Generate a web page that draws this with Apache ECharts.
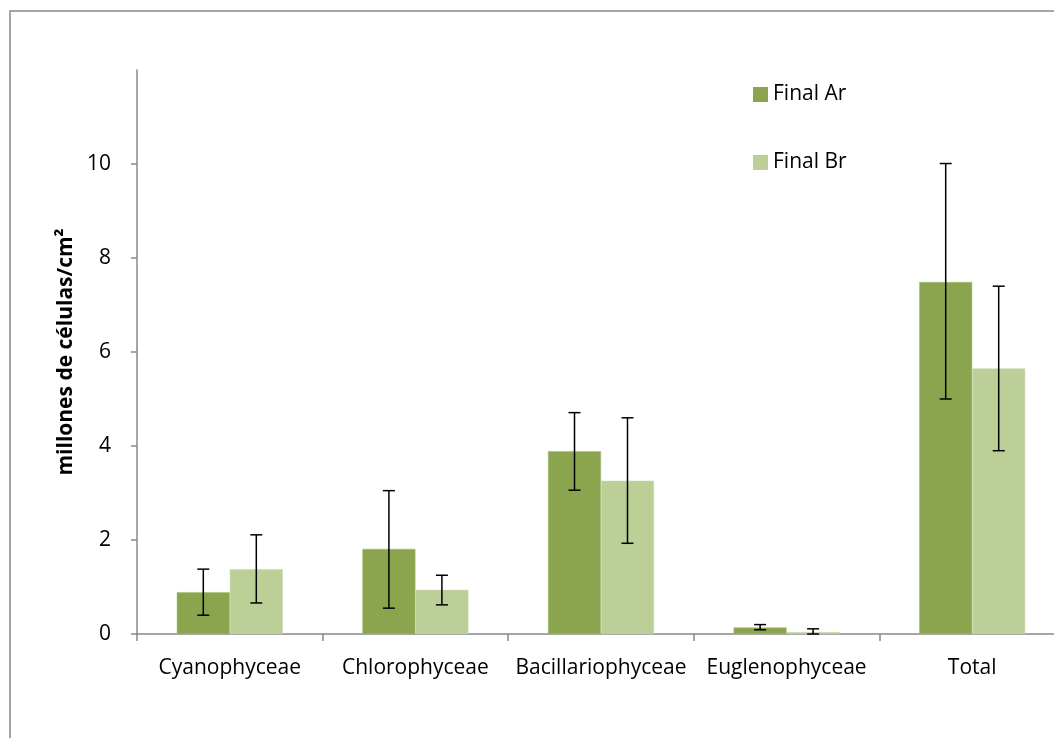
<!DOCTYPE html>
<html>
<head>
<meta charset="utf-8">
<script src="https://cdn.jsdelivr.net/npm/echarts@6/dist/echarts.min.js"></script>
<style>
  html, body { margin: 0; padding: 0; background: #fff; }
  #chart { width: 1054px; height: 738px; }
</style>
</head>
<body>
<div id="chart"></div>
<script>
var categories = ['Cyanophyceae', 'Chlorophyceae', 'Bacillariophyceae', 'Euglenophyceae', 'Total'];
var finalA = [0.89, 1.81, 3.89, 0.14, 7.49];
var finalA_low = [0.40, 0.55, 3.06, 0.09, 5.00];
var finalA_high = [1.38, 3.05, 4.71, 0.20, 10.01];
var finalB = [1.38, 0.94, 3.26, 0.04, 5.65];
var finalB_low = [0.66, 0.62, 1.93, 0.00, 3.90];
var finalB_high = [2.11, 1.25, 4.60, 0.11, 7.40];
var yTicks = [0, 2, 4, 6, 8, 10];

var myChart = echarts.init(document.getElementById('chart'));

// barra de error: series custom, desplazada medio ancho de barra
function errorSeries(name, low, high, offset) {
    var data = [];
    for (var i = 0; i < categories.length; i++) {
        data.push([i, low[i], high[i]]);
    }
    return {
        name: name,
        type: 'custom',
        z: 10,
        silent: true,
        renderItem: function (params, api) {
            var lo = api.coord([api.value(0), api.value(1)]);
            var hi = api.coord([api.value(0), api.value(2)]);
            var x = lo[0] + offset;
            var cap = 6;
            var st = { stroke: '#000', lineWidth: 1.5 };
            return {
                type: 'group',
                children: [
                    { type: 'line', shape: { x1: x, y1: hi[1], x2: x, y2: lo[1] }, style: st },
                    { type: 'line', shape: { x1: x - cap, y1: hi[1], x2: x + cap, y2: hi[1] }, style: st },
                    { type: 'line', shape: { x1: x - cap, y1: lo[1], x2: x + cap, y2: lo[1] }, style: st }
                ]
            };
        },
        data: data
    };
}

var option = {
    animation: false,
    backgroundColor: '#fff',
    textStyle: { fontFamily: 'Open Sans' },
    graphic: [{
        type: 'rect',
        left: 7.5,
        top: 8.5,
        shape: { width: 1200, height: 900 },
        style: { fill: 'none', stroke: '#888', lineWidth: 1.5 },
        z: -10
    }],
    legend: {
        orient: 'vertical',
        left: 748,
        top: 79,
        icon: 'rect',
        itemWidth: 15,
        itemHeight: 15,
        itemGap: 47,
        itemStyle: { borderWidth: 0 },
        textStyle: { fontSize: 21, color: '#000', fontFamily: 'Open Sans' },
        data: ['Final Ar', 'Final Br']
    },
    grid: {
        left: 137,
        top: 70,
        width: 928,
        height: 564,
        outerBoundsMode: 'none'
    },
    xAxis: {
        type: 'category',
        data: categories,
        axisLine: { lineStyle: { color: '#888', width: 1.5 } },
        axisTick: { show: true, length: 7, lineStyle: { color: '#888', width: 1.5 } },
        axisLabel: { fontSize: 21, color: '#000', margin: 24, interval: 0 }
    },
    yAxis: {
        type: 'value',
        min: 0,
        max: 12,
        interval: 2,
        name: 'millones de células/cm²',
        nameLocation: 'middle',
        nameGap: 58,
        nameRotate: 90,
        nameTextStyle: { fontSize: 21, fontWeight: 'bold', color: '#000' },
        axisLine: { show: true, lineStyle: { color: '#888', width: 1.5 } },
        axisTick: { show: true, length: 6, customValues: yTicks, lineStyle: { color: '#888', width: 1.5 } },
        axisLabel: { fontSize: 21, color: '#000', margin: 26, customValues: yTicks },
        splitLine: { show: false }
    },
    series: [{
        name: 'Final Ar',
        type: 'bar',
        barWidth: 53,
        barGap: '0%',
        itemStyle: { color: '#8AA54E', borderColor: '#A3BA74', borderWidth: 0.5 },
        data: finalA
    }, {
        name: 'Final Br',
        type: 'bar',
        barWidth: 53,
        barGap: '0%',
        itemStyle: { color: '#BBCF97', borderColor: '#CCDBB0', borderWidth: 0.5 },
        data: finalB
    },
        errorSeries('errA', finalA_low, finalA_high, -26.5),
        errorSeries('errB', finalB_low, finalB_high, 26.5)
    ]
};
myChart.setOption(option);
</script>
</body>
</html>
